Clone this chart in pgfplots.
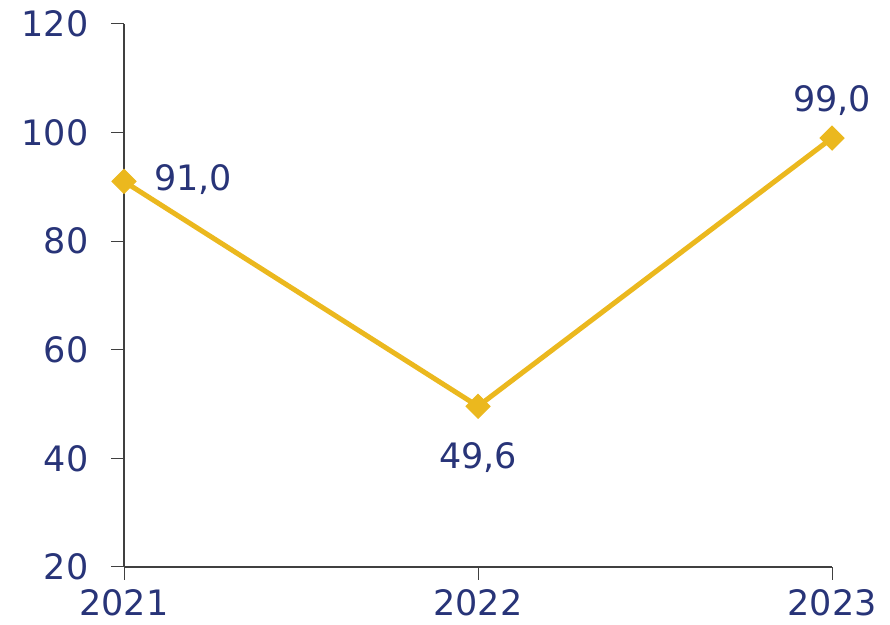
\documentclass[border=0pt]{standalone}
\usepackage{fontspec}
\setmainfont{DejaVu Sans}
\usepackage{pgfplots}
\pgfplotsset{compat=1.18}
\definecolor{navy}{RGB}{40,52,120}
\definecolor{gold}{RGB}{235,184,30}
\definecolor{axgray}{RGB}{64,64,64}
\begin{document}
\begin{tikzpicture}
\begin{axis}[
  x=354pt, y=5.43pt,
  xmin=2021, xmax=2023, ymin=20, ymax=120,
  axis x line*=bottom, axis y line*=left,
  xtick={2021,2022,2023}, ytick={20,40,...,120},
  tick align=outside, major tick length=13pt,
  tick style={axgray, line width=1pt},
  axis line style={axgray, line width=1.2pt},
  ticklabel style={font=\fontsize{35}{40}\selectfont, text=navy},
  yticklabel style={xshift=-19pt},
  xticklabel style={yshift=-6pt},
  /pgf/number format/assume math mode=true,
  /pgf/number format/1000 sep={},
  clip=false,
]
\addplot[gold, line width=5pt, mark=square*, mark size=8.5pt,
  mark options={line width=1pt, fill=gold, draw=gold, rotate=45, rounded corners=2pt}]
  coordinates {(2021,91.0) (2022,49.6) (2023,99.0)};
\node[text=navy, font=\fontsize{35}{40}\selectfont, anchor=west] at (axis cs:2021.075,91.3) {91,0};
\node[text=navy, font=\fontsize{35}{40}\selectfont, anchor=north] at (axis cs:2022,43.5) {49,6};
\node[text=navy, font=\fontsize{35}{40}\selectfont, anchor=south] at (axis cs:2023,102.5) {99,0};
\coordinate (bl) at (axis cs:2020.6497,9.4);
\coordinate (tr) at (axis cs:2023.1638,124.42);
\end{axis}
\pgfresetboundingbox
\path[use as bounding box] (bl) rectangle (tr);
\end{tikzpicture}
\end{document}
